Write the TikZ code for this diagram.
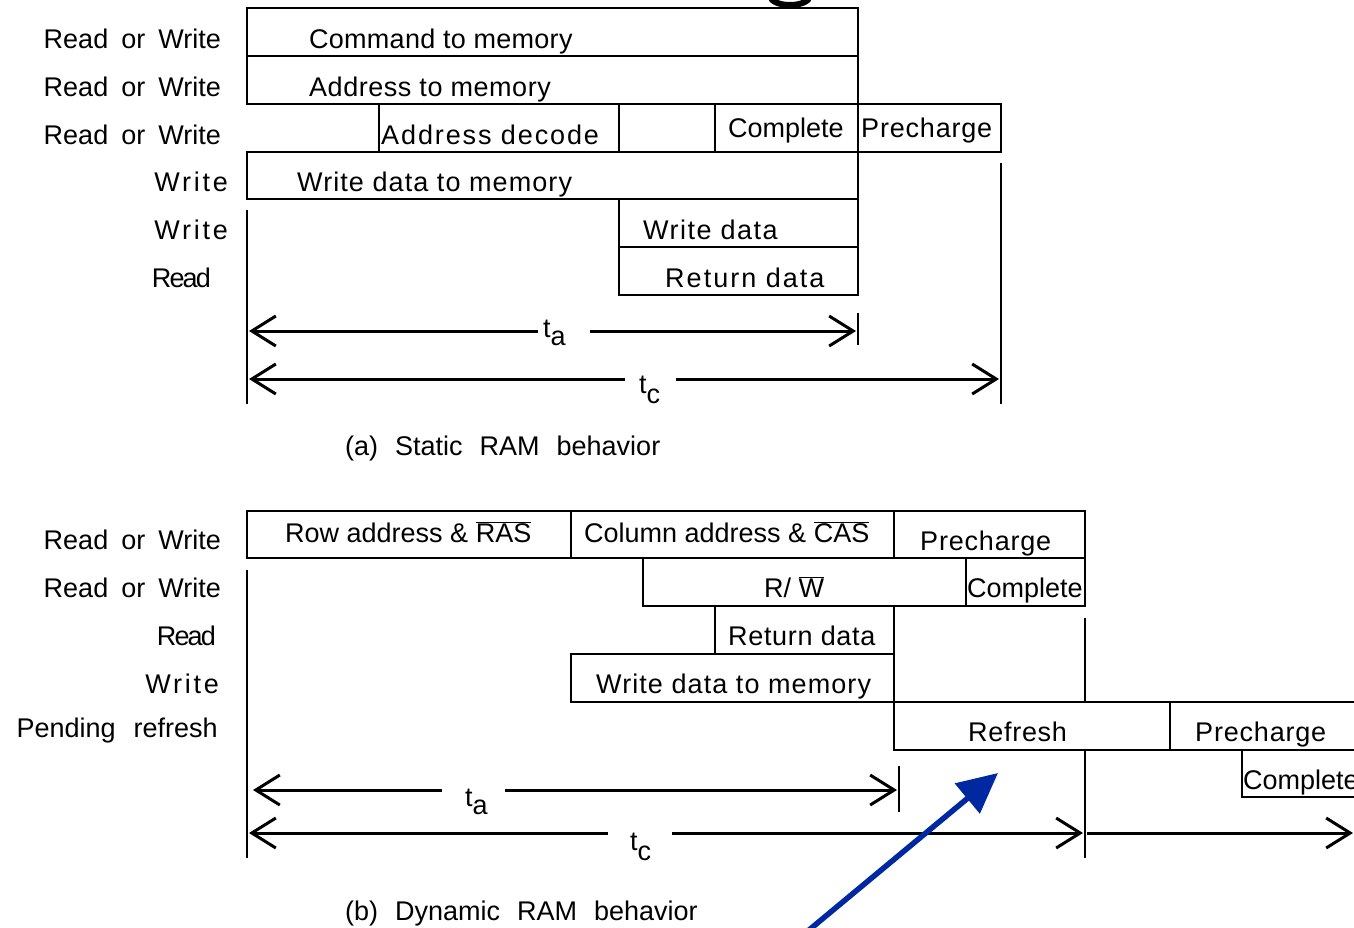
\documentclass[tikz,border=0pt]{standalone}
\usepackage{fontspec}
\setmainfont{Liberation Sans}
\usetikzlibrary{arrows.meta}
\definecolor{arrowblue}{RGB}{0,40,160}
\tikzset{
  box/.style={draw=black, line width=2.5pt},
  edge/.style={draw=black, line width=2.5pt},
  txt/.style={font=\fontsize{27}{32}\selectfont, inner sep=0pt, anchor=base west},
  rtxt/.style={txt, anchor=base east},
  ls/.style={font=\fontsize{27}{32}\selectfont\addfontfeatures{LetterSpace=#1}},
  barb/.tip={Straight Barb[length=24pt,width=30pt,line width=3pt]},
  dimline/.style={line width=3pt},
  bigarrow/.style={draw=arrowblue, line width=5.5pt, -{Triangle[length=40pt,width=38pt]}}
}
\newcommand{\wsp}{\hspace{13pt}}
\newcommand{\csp}{\hspace{17pt}}
\begin{document}
\begin{tikzpicture}[x=1pt,y=-1pt]
\clip (0,0) rectangle (1354,927);
\useasboundingbox (0,0) rectangle (1354,927);
\fill[white] (0,0) rectangle (1354,927);

% partial glyph at the top
\draw[line width=6pt] (770,-4) .. controls (772,8) and (808,8) .. (810,-4);

% ---------------- (a) Static RAM ----------------
\draw[box] (247,8) rectangle (858,56);
\draw[box] (247,56) rectangle (858,104);
\draw[box] (379,104) rectangle (619,152);
\draw[box] (619,104) rectangle (715,152);
\draw[box] (715,104) rectangle (858,152);
\draw[box] (858,104) rectangle (1001,152);
\draw[box] (247,152) rectangle (858,199);
\draw[box] (619,199) rectangle (858,247);
\draw[box] (619,247) rectangle (858,295);

\node[txt, ls=1] (a1) at (309,48) {Command to memory};
\node[txt, ls=2] (a2) at (309,96) {Address to memory};
\node[txt, ls=7] (a3) at (381,144) {Address decode};
\node[txt] (a4) at (728,137) {Complete};
\node[txt, ls=3] (a5) at (861,137) {Precharge};
\node[txt, ls=4] (a6) at (297,191) {Write data to memory};
\node[txt, ls=5.5] (a7) at (643,239) {Write data};
\node[txt, ls=7.5] (a8) at (665,287) {Return data};

\node[rtxt] (la1) at (221,48) {Read\wsp or\wsp Write};
\node[rtxt] (la2) at (221,96) {Read\wsp or\wsp Write};
\node[rtxt] (la3) at (221,144) {Read\wsp or\wsp Write};
\node[rtxt, ls=10] (la4) at (228,191) {Write};
\node[rtxt, ls=10] (la5) at (228,239) {Write};
\node[rtxt, ls=-7] (la6) at (211,287) {Read};

% ticks
\coordinate (aL1) at (247,210); \coordinate (aL2) at (247,404);
\coordinate (aM1) at (858,313); \coordinate (aM2) at (858,345);
\coordinate (aR1) at (1001,163); \coordinate (aR2) at (1001,404);
\draw[edge] (aL1) -- (aL2);
\draw[edge] (aM1) -- (aM2);
\draw[edge] (aR1) -- (aR2);

% t_a
\node[txt] (ta1) at (543,337) {t\raisebox{-8pt}{a}};
\coordinate (ta1s) at (249,331); \coordinate (ta1g1) at (538,331);
\coordinate (ta1g2) at (590,331); \coordinate (ta1e) at (856,331);
\draw[dimline, barb-] (ta1s) -- (ta1g1);
\draw[dimline, -barb] (ta1g2) -- (ta1e);
% t_c
\node[txt] (tc1) at (639,393) {t\raisebox{-10pt}{c}};
\coordinate (tc1s) at (249,379); \coordinate (tc1g1) at (625,379);
\coordinate (tc1g2) at (676,379); \coordinate (tc1e) at (999,379);
\draw[dimline, barb-] (tc1s) -- (tc1g1);
\draw[dimline, -barb] (tc1g2) -- (tc1e);

\node[txt] (capa) at (345,455) {(a)\csp Static\csp RAM\csp behavior};

% ---------------- (b) Dynamic RAM ----------------
\draw[box] (247,511) rectangle (571,558);
\draw[box] (571,511) rectangle (894,558);
\draw[box] (894,511) rectangle (1085,558);
\draw[box] (643,558) rectangle (966,606);
\draw[box] (966,558) rectangle (1085,606);
\draw[edge] (715,606) -- (715,654) -- (894,654);
\draw[edge] (894,606) -- (894,702);
\draw[box] (571,654) rectangle (894,702);
\draw[box] (894,702) rectangle (1170,750);
\draw[box] (1170,702) rectangle (1365,750);
\draw[edge] (1242,750) -- (1242,797) -- (1365,797);

\node[txt] (b1) at (285,542) {Row address \& $\overline{\mbox{RAS}}$};
\node[txt] (b2) at (584,542) {Column address \& $\overline{\mbox{CAS}}$};
\node[txt, ls=3] (b3) at (920,550) {Precharge};
\node[txt] (b4) at (764,597) {R/ $\overline{\mbox{W}}$};
\node[txt] (b5) at (967,597) {Complete};
\node[txt, ls=2.5] (b6) at (728,645) {Return data};
\node[txt, ls=4] (b7) at (596,693) {Write data to memory};
\node[txt, ls=2.6] (b8) at (968,741) {Refresh};
\node[txt, ls=3] (b9) at (1195,741) {Precharge};
\node[txt] (b10) at (1243,789) {Complete};

\node[rtxt] (lb1) at (221,549) {Read\wsp or\wsp Write};
\node[rtxt] (lb2) at (221,597) {Read\wsp or\wsp Write};
\node[rtxt, ls=-7] (lb3) at (216,645) {Read};
\node[rtxt, ls=10] (lb4) at (219,693) {Write};
\node[rtxt] (lb5) at (218,737) {Pending\hspace{18pt}refresh};

\coordinate (bL1) at (247,570); \coordinate (bL2) at (247,858);
\coordinate (bM1) at (899,766); \coordinate (bM2) at (899,812);
\coordinate (bR1) at (1085,618); \coordinate (bR2) at (1085,702);
\coordinate (bR3) at (1085,750); \coordinate (bR4) at (1085,858);
\draw[edge] (bL1) -- (bL2);
\draw[edge] (bM1) -- (bM2);
\draw[edge] (bR1) -- (bR2);
\draw[edge] (bR3) -- (bR4);

% t_a
\node[txt] (ta2) at (465,806) {t\raisebox{-8pt}{a}};
\coordinate (ta2s) at (253,790); \coordinate (ta2g1) at (442,790);
\coordinate (ta2g2) at (505,790); \coordinate (ta2e) at (897,790);
\draw[dimline, barb-] (ta2s) -- (ta2g1);
\draw[dimline, -barb] (ta2g2) -- (ta2e);
% t_c
\node[txt] (tc2) at (630,850) {t\raisebox{-10pt}{c}};
\coordinate (tc2s) at (249,833); \coordinate (tc2g1) at (608,833);
\coordinate (tc2g2) at (672,833); \coordinate (tc2e) at (1083,833);
\draw[dimline, barb-] (tc2s) -- (tc2g1);
\draw[dimline, -barb] (tc2g2) -- (tc2e);
\coordinate (tc3s) at (1087,833); \coordinate (tc3e) at (1353,833);
\draw[dimline, -barb] (tc3s) -- (tc3e);

\node[txt] (capb) at (345,920) {(b)\csp Dynamic\csp RAM\csp behavior};

% blue pointer
\coordinate (ptrS) at (803,935); \coordinate (ptrE) at (998,773);
\draw[bigarrow] (ptrS) -- (ptrE);
\end{tikzpicture}
\end{document}
